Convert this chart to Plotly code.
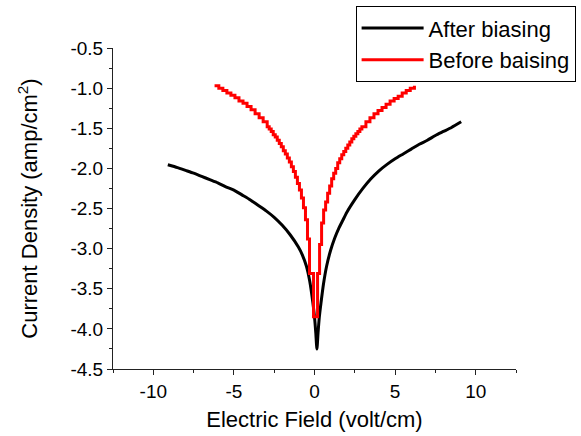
import plotly.graph_objects as go

# After biasing (black)
after_x = [-9.1, -8.5, -8.0, -7.5, -7.0, -6.5, -6.0, -5.5, -5.0, -4.5, -4.0, -3.5, -3.0, -2.5, -2.0, -1.5,
           -1.0, -0.75, -0.5, -0.3, -0.15, 0.0, 0.08, 0.15, 0.22, 0.3, 0.4, 0.55, 0.75, 1.0, 1.25, 1.5, 1.75,
           2.0, 2.5, 3.0, 3.5, 4.0, 4.5, 5.0, 5.5, 6.0, 6.5, 7.0, 7.5, 8.0, 8.5, 9.1]
after_y = [-1.955, -1.99, -2.025, -2.06, -2.10, -2.14, -2.18, -2.23, -2.27, -2.33, -2.39, -2.46, -2.53, -2.61, -2.71, -2.83,
           -2.98, -3.08, -3.22, -3.40, -3.60, -3.85, -4.05, -4.25, -4.05, -3.85, -3.68, -3.45, -3.22, -3.02, -2.87, -2.75, -2.65,
           -2.55, -2.39, -2.25, -2.13, -2.03, -1.95, -1.88, -1.82, -1.76, -1.70, -1.65, -1.59, -1.54, -1.49, -1.42]

# Before baising (red, stepped)
before_x = [-6.2, -5.935, -5.685, -5.435, -5.185, -4.935, -4.685, -4.435, -4.185, -3.935, -3.685, -3.435, -3.185,
            -2.935, -2.81, -2.685, -2.56, -2.435, -2.31, -2.185, -2.06, -1.935, -1.81, -1.685, -1.56, -1.435, -1.31,
            -1.185, -1.06, -0.935, -0.81, -0.685, -0.56, -0.435, -0.31, -0.06,
            0.19, 0.315, 0.44, 0.565, 0.69, 0.815, 0.94, 1.065, 1.19, 1.315, 1.44, 1.565, 1.69, 1.815, 1.94, 2.065,
            2.19, 2.315, 2.44, 2.565, 2.69, 2.815, 2.94, 3.19, 3.44, 3.69, 3.94, 4.19, 4.44, 4.69, 4.94, 5.19, 5.44,
            5.69, 5.94, 6.2]
before_y = [-0.97, -1.00, -1.03, -1.06, -1.09, -1.12, -1.16, -1.19, -1.23, -1.27, -1.32, -1.37, -1.42,
            -1.48, -1.51, -1.54, -1.58, -1.61, -1.65, -1.69, -1.73, -1.78, -1.82, -1.87, -1.92, -1.98, -2.04,
            -2.11, -2.19, -2.27, -2.37, -2.49, -2.64, -2.88, -3.31, -3.85,
            -3.31, -2.95, -2.68, -2.52, -2.42, -2.31, -2.22, -2.13, -2.06, -2.00, -1.93, -1.88, -1.83, -1.79, -1.75, -1.71,
            -1.67, -1.63, -1.60, -1.57, -1.54, -1.51, -1.48, -1.42, -1.37, -1.32, -1.28, -1.24, -1.20, -1.16, -1.13, -1.10, -1.06,
            -1.03, -1.00, -0.97]

x_ticks = [-10, -5, 0, 5, 10]
y_ticks = [-4.5, -4.0, -3.5, -3.0, -2.5, -2.0, -1.5, -1.0, -0.5]

FONT = "Liberation Sans, Arial, sans-serif"

fig = go.Figure()
fig.add_trace(go.Scatter(x=after_x, y=after_y, mode="lines", name="After biasing",
                         line=dict(color="black", width=3, shape="spline", smoothing=0.6)))
fig.add_trace(go.Scatter(x=before_x, y=before_y, mode="lines", name="Before baising",
                         line=dict(color="#ff0000", width=3, shape="hv")))

axis_common = dict(showgrid=False, zeroline=False, showline=True, linecolor="#222", linewidth=1,
                   ticks="outside", ticklen=5, tickcolor="#222", tickfont=dict(size=19, color="black", family=FONT))

fig.update_layout(
    width=581, height=436,
    margin=dict(l=113, r=65, t=48, b=67, autoexpand=False),
    paper_bgcolor="white", plot_bgcolor="white",
    font=dict(family=FONT, color="black"),
    xaxis=dict(range=[-12.5, 12.5], tickvals=x_ticks, ticktext=[str(v) for v in x_ticks],
               title=dict(text="Electric Field (volt/cm)", font=dict(size=22, family=FONT), standoff=10),
               minor=dict(dtick=2.5, tick0=0, ticks="outside", ticklen=3, tickcolor="#222"),
               **axis_common),
    yaxis=dict(range=[-4.5, -0.5], tickvals=y_ticks, ticktext=[f"{v:.1f}" for v in y_ticks],
               title=dict(text="Current Density (amp/cm<sup>2</sup>)", font=dict(size=22, family=FONT), standoff=26),
               minor=dict(dtick=0.25, tick0=0, ticks="outside", ticklen=3, tickcolor="#222"),
               **axis_common),
    showlegend=True,
    legend=dict(x=0.602, y=1.13, xanchor="left", yanchor="top", bgcolor="white",
                bordercolor="black", borderwidth=1, font=dict(size=22, family=FONT, color="black"),
                itemwidth=62, tracegroupgap=0),
)

fig.write_html("out.html", config={"displayModeBar": False},
               post_script="document.body.style.margin='0px';")
